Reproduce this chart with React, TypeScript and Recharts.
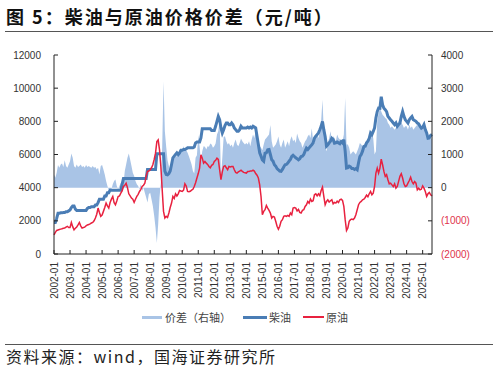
import { ComposedChart, Area, Line, XAxis, YAxis } from 'recharts';

// monthly, 2002-01 .. 2025-08 (元/吨)
const years = [
  2002, 2003, 2004, 2005, 2006, 2007, 2008, 2009, 2010, 2011, 2012, 2013,
  2014, 2015, 2016, 2017, 2018, 2019, 2020, 2021, 2022, 2023, 2024, 2025,
];
const lastYearMonths = 8;

const diesel = [
  1900, 1900, 2150, 2450, 2450, 2480, 2480, 2500, 2500, 2550, 2550, 2600,
  2650, 2800, 2900, 2900, 2700, 2630, 2630, 2630, 2630, 2630, 2630, 2630,
  2630, 2750, 2800, 2800, 2850, 2850, 2850, 2950, 2950, 3100, 3300, 3300,
  3300, 3300, 3500, 3500, 3700, 3700, 3850, 3850, 3850, 3850, 3850, 3850,
  3850, 3850, 3850, 4200, 4550, 4550, 4550, 4550, 4550, 4550, 4550, 4550,
  4550, 4550, 4550, 4550, 4550, 4550, 4550, 4550, 4550, 4550, 5100, 5100,
  5100, 5100, 5100, 5100, 5100, 6050, 6050, 6050, 6050, 6050, 6050, 5000,
  4800, 4780, 4850, 5000, 5400, 5800, 5900, 6000, 6100, 6000, 6100, 6250,
  6250, 6300, 6300, 6350, 6400, 6400, 6400, 6400, 6400, 6450, 6700, 6750,
  6750, 6750, 7000, 7550, 7550, 7550, 7550, 7550, 7550, 7550, 7450, 7450,
  7450, 7700, 8000, 8300, 8100, 7600, 7300, 7500, 7750, 7900, 7900, 7800,
  7800, 7900, 7800, 7600, 7500, 7400, 7400, 7500, 7700, 7600, 7600, 7600,
  7600, 7650, 7600, 7650, 7600, 7700, 7650, 7600, 7100, 6600, 6100, 5900,
  5680, 5600, 6080, 6100, 6280, 6300, 6000, 5680, 5600, 5380, 5300, 5150,
  5080, 5000, 4980, 5100, 5250, 5380, 5400, 5480, 5600, 5700, 5880, 5950,
  5880, 5800, 5750, 5680, 5750, 5880, 5900, 6000, 6200, 6380, 6300, 6400,
  6500, 6580, 6700, 6980, 7100, 7200, 7300, 7490, 7700, 7990, 7500, 7090,
  6500, 6580, 6700, 6800, 6980, 6900, 6680, 6700, 6750, 6700, 6650, 6780,
  6700, 6900, 6200, 5180, 5200, 5300, 5250, 5150, 5150, 5100, 5150, 5080,
  5500, 5880, 6000, 6200, 6480, 6500, 6700, 6800, 6980, 7300, 7200, 7390,
  7600, 8200, 8590, 8800, 8790, 9490, 9000, 8790, 8700, 8590, 8300, 8200,
  8090, 8000, 7900, 7800, 7900, 7700, 7800, 7900, 8300, 8590, 8300, 8100,
  8000, 7900, 8100, 8200, 8290, 8100, 8050, 8000, 7900, 7850, 7700, 7590,
  7650, 7800, 7500, 7300, 6980, 7000, 7150, 7200,
];

const crude = [
  1160, 1300, 1420, 1450, 1480, 1500, 1520, 1550, 1570, 1620, 1670, 1600,
  1600, 1900, 1650, 1460, 1550, 1630, 1750, 1900, 1700, 1560, 1600, 1620,
  1700, 1750, 1780, 1820, 1870, 1900, 2000, 2170, 2400, 2770, 2500, 2270,
  2350, 2570, 2800, 3070, 2900, 2770, 3100, 3310, 3470, 3100, 2970, 3200,
  3470, 3500, 3670, 3800, 4070, 4150, 4270, 4000, 3630, 3500, 3370, 3300,
  3110, 3300, 3470, 3600, 3770, 3900, 4070, 4150, 4270, 4680, 4980, 5000,
  5080, 5200, 5380, 5700, 6080, 6780, 6880, 6280, 5280, 3870, 2570, 2170,
  2270, 2200, 2470, 2800, 3070, 3470, 3350, 3630, 3500, 3630, 3830, 3800,
  3770, 3850, 4230, 4100, 3770, 3750, 3780, 3850, 3900, 4070, 4300, 4580,
  4850, 5180, 5980, 5780, 5480, 5580, 5480, 5400, 5280, 5200, 5350, 5400,
  5580, 5650, 5780, 5700, 5080, 4480, 4950, 5280, 5320, 5200, 5080, 5280,
  5250, 5280, 5280, 5080, 4920, 4880, 4950, 5000, 5050, 4980, 4920, 4900,
  4880, 4980, 4980, 5000, 5000, 5050, 5000, 4850, 4750, 4580, 4170, 3470,
  2370, 2570, 2670, 2930, 2770, 2630, 2470, 2170, 2270, 2230, 1970, 1670,
  1500, 1670, 1970, 2070, 2270, 2300, 2270, 2330, 2270, 2470, 2370, 2770,
  2800, 2770, 2600, 2690, 2510, 2470, 2630, 2670, 2870, 2970, 3170, 3070,
  3310, 3170, 3210, 3570, 3630, 3510, 3630, 3510, 3830, 4030, 3470, 2970,
  3170, 3270, 3130, 3210, 3270, 3030, 3110, 3070, 3190, 3110, 3270, 3310,
  3230, 2870, 2070, 1420, 1570, 1970, 2070, 2110, 2070, 2170, 2370, 2670,
  2970, 3110, 3170, 3270, 3310, 3410, 3550, 3450, 3630, 3770, 3570, 3670,
  4070, 4880, 5180, 4880, 5180, 5720, 5380, 4980, 4680, 4780, 4480, 4230,
  4270, 4170, 4070, 4230, 3970, 4070, 4380, 4680, 4840, 4580, 4230, 4070,
  4110, 4270, 4430, 4630, 4370, 4230, 4370, 4270, 3870, 3970, 3870, 3910,
  4110, 3970, 3770, 3470, 3630, 3710, 3570, 3510,
];

// 价差, right axis
const spread = [
  400, 300, 450, 680, 600, 700, 730, 620, 830, 650, 600, 700,
  800, 1030, 900, 650, 600, 700, 620, 650, 700, 620, 650, 600,
  680, 620, 650, 620, 600, 650, 600, 620, 550, 600, 400, 650,
  680, 550, 400, 200, 50, -70, -80, -50, 100, 200, 250, 50,
  -50, 50, 150, -50, 100, 500, 700, 900, 1030, 850, 650, 450,
  350, 200, 100, 50, -50, 100, -100, 0, -150, -300, -450, -200,
  -150, -350, -550, -850, -1200, -1670, -1100, -300, 150, 1200, 3200, 1700,
  1230, 830, 650, 530, 650, 830, 900, 930, 950, 1000, 1030, 1100,
  1130, 1250, 1150, 1130, 1050, 950, 830, 700, 500, 430, 900, 980,
  1580, 1250, 800, 1100, 1250, 1230, 1150, 1250, 1230, 1330, 1300, 1200,
  1250, 1330, 1600, 1700, 2050, 300, 900, 1530, 1550, 1400, 1300, 1350,
  1250, 1300, 1200, 1350, 1450, 1300, 1250, 1350, 1480, 1400, 1350, 1300,
  1350, 1300, 1400, 1250, 1450, 1600, 1500, 1730, 1400, 1300, 1250, 1200,
  1130, 1300, 1450, 1500, 1550, 1600, 1890, 1400, 1200, 1250, 1300, 1400,
  1540, 1300, 1200, 1350, 1450, 1200, 1300, 1400, 1250, 1450, 1550, 1400,
  1450, 1350, 1630, 1500, 1400, 1350, 1200, 1300, 1400, 1450, 1550, 1600,
  1500, 1790, 1400, 1350, 1550, 1600, 1500, 1700, 2000, 2650, 1700, 1200,
  1100, 1350, 1500, 1700, 1450, 1550, 1500, 1400, 1600, 1500, 1450, 1400,
  1400, 1600, 2700, 1300, 1300, 1200, 1000, 1050, 1100, 1050, 1000, 1100,
  1200, 1350, 1300, 1250, 1300, 1350, 1400, 1450, 1500, 1550, 1600, 1500,
  1000, 1100, 2000, 2240, 2390, 2300, 2200, 2150, 2100, 2070, 1950, 1900,
  1800, 1850, 1800, 1750, 1800, 1850, 2000, 2050, 1950, 1900, 1800, 1850,
  1850, 1750, 1900, 1800, 1850, 1750, 1800, 1850, 1900, 1990, 1900, 1800,
  1800, 1850, 1700, 1600, 1550, 1500, 1450, 1500,
];

const leftTicks = [0, 2000, 4000, 6000, 8000, 10000, 12000];
const rightTicks = [-2000, -1000, 0, 1000, 2000, 3000, 4000];

const months: string[] = [];
years.forEach((y, i) => {
  const n = i === years.length - 1 ? lastYearMonths : 12;
  for (let m = 1; m <= n; m++) months.push(`${y}-${String(m).padStart(2, '0')}`);
});

const data = months.map((date, i) => ({
  date,
  diesel: diesel[i],
  crude: crude[i],
  spread: spread[i],
}));

const FONT = '"Liberation Sans", Arial, sans-serif';
const CJK = '"Noto Sans CJK SC", sans-serif';
const BLUE = '#4a7db5';
const RED = '#e8213f';
const AREA = '#a9c4e6';

const LeftTick = (props: any) => {
  const { x, y, payload } = props;
  return (
    <g>
      <line x1={x + 13} x2={x + 17} y1={y} y2={y} stroke="#222" />
      <text x={x} y={y} dy="0.35em" textAnchor="end" fontSize={10} fill="#333" fontFamily={FONT}>
        {payload.value}
      </text>
    </g>
  );
};

const RightTick = (props: any) => {
  const { x, y, payload } = props;
  const v = payload.value as number;
  return (
    <g>
      <line x1={x - 9} x2={x - 13} y1={y} y2={y} stroke="#222" />
      <text x={x} y={y} dy="0.35em" textAnchor="start" fontSize={10} fill={v < 0 ? '#e0344c' : '#333'} fontFamily={FONT}>
        {v < 0 ? `(${-v})` : v}
      </text>
    </g>
  );
};

const BottomTick = (props: any) => {
  const { x, y, payload } = props;
  return (
    <g>
      <line x1={x} x2={x} y1={y - 8} y2={y - 12} stroke="#222" />
      <g transform={`translate(${x},${y})`}>
        <text transform="rotate(-90)" dy="0.35em" textAnchor="end" fontSize={10} fill="#333" fontFamily={FONT}>
          {payload.value}
        </text>
      </g>
    </g>
  );
};

const App = () => {
  return (
    <div style={{ position: 'fixed', left: 0, top: 0, width: 498, height: 372, background: '#fff' }}>
      <div
        style={{
          position: 'absolute', left: 6, top: 3, fontFamily: CJK, fontWeight: 700,
          fontSize: 18, letterSpacing: 2, color: '#111', whiteSpace: 'nowrap',
        }}
      >
        图 5：柴油与原油价格价差（元/吨）
      </div>
      <div style={{ position: 'absolute', left: 5, top: 31, width: 488, height: 1, background: '#555' }} />

      <div style={{ position: 'absolute', left: 0, top: 40 }}>
        <ComposedChart width={498} height={270} data={data} margin={{ top: 15, right: 0, bottom: 6, left: 0 }}>
          <XAxis
            dataKey="date"
            scale="point"
            interval={11}
            height={50}
            tickSize={0}
            tickMargin={8}
            tick={<BottomTick />}
            axisLine={{ stroke: '#222' }}
            tickLine={false}
          />
          <YAxis
            yAxisId="left"
            width={54}
            domain={[0, 12000]}
            ticks={leftTicks}
            tickSize={0}
            tickMargin={13}
            tick={<LeftTick />}
            axisLine={{ stroke: '#222' }}
            tickLine={false}
          />
          <YAxis
            yAxisId="right"
            orientation="right"
            width={66}
            domain={[-2000, 4000]}
            ticks={rightTicks}
            tickSize={0}
            tickMargin={9}
            tick={<RightTick />}
            axisLine={{ stroke: '#222' }}
            tickLine={false}
          />
          <Area
            yAxisId="right"
            dataKey="spread"
            type="linear"
            baseValue={0}
            fill={AREA}
            fillOpacity={1}
            stroke="none"
            isAnimationActive={false}
          />
          <Line
            yAxisId="left"
            dataKey="diesel"
            type="linear"
            stroke={BLUE}
            strokeWidth={3}
            dot={false}
            isAnimationActive={false}
          />
          <Line
            yAxisId="left"
            dataKey="crude"
            type="linear"
            stroke={RED}
            strokeWidth={1.5}
            dot={false}
            isAnimationActive={false}
          />
        </ComposedChart>
      </div>

      <div
        style={{
          position: 'absolute', left: 0, top: 309, width: 498, height: 16, fontFamily: CJK,
          fontSize: 11, color: '#444', whiteSpace: 'nowrap',
        }}
      >
        <div style={{ position: 'absolute', left: 142, top: 7, width: 20, height: 3, background: AREA }} />
        <div style={{ position: 'absolute', left: 165, top: 0, lineHeight: '16px' }}>价差（右轴）</div>
        <div style={{ position: 'absolute', left: 243, top: 7, width: 24, height: 3, background: BLUE }} />
        <div style={{ position: 'absolute', left: 269, top: 0, lineHeight: '16px' }}>柴油</div>
        <div style={{ position: 'absolute', left: 303, top: 7, width: 21, height: 2, background: RED }} />
        <div style={{ position: 'absolute', left: 326, top: 0, lineHeight: '16px' }}>原油</div>
      </div>

      <div style={{ position: 'absolute', left: 5, top: 344, width: 488, height: 1, background: '#555' }} />
      <div
        style={{
          position: 'absolute', left: 6, top: 345, fontFamily: CJK, fontSize: 16,
          letterSpacing: 1.5, color: '#222', whiteSpace: 'nowrap', lineHeight: '22px',
        }}
      >
        资料来源：wind，国海证券研究所
      </div>
    </div>
  );
};

export default App;
